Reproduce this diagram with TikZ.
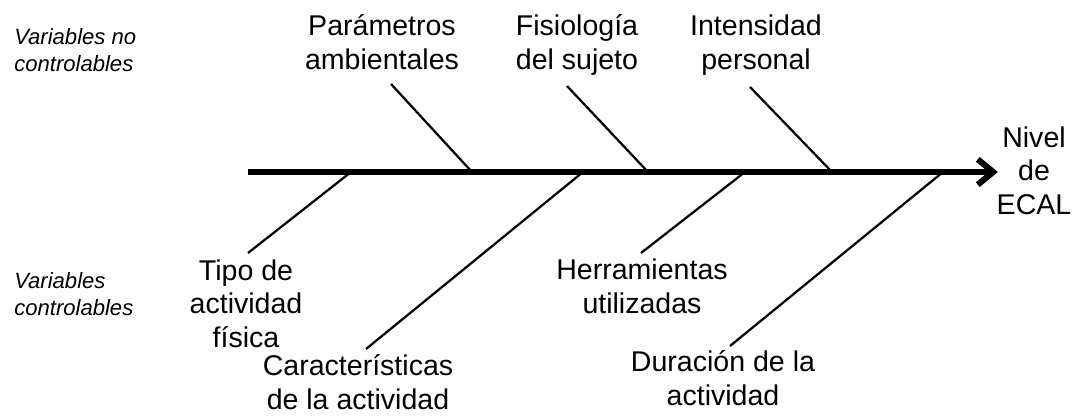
\documentclass[tikz,border=0pt]{standalone}
\usepackage{fontspec}
\setmainfont{Liberation Sans}
\usetikzlibrary{arrows.meta}

\begin{document}
\begin{tikzpicture}[x=0.025cm,y=-0.025cm,
		lbl/.style={align=center,font=\fontsize{20.3}{23.5}\selectfont,inner sep=0pt,anchor=base},
		var/.style={align=left,font=\fontsize{15.7}{18.5}\selectfont\itshape,inner sep=0pt,anchor=base west},
		spine/.style={line width=4.3pt,-{Straight Barb[length=11pt,width=18pt]}},
		bone/.style={line width=1.6pt}]
		\useasboundingbox (0,0) rectangle (1078,415);
		% texto (y = linea base de la ultima linea)
		\node[var] at (14,71) (vn) {Variables no\\controlables};
		\node[var] at (14,315) (vc) {Variables\\controlables};
		\node[lbl] at (382,69) (pa) {Parámetros\\ambientales};
		\node[lbl] at (577,69) (fs) {Fisiología\\del sujeto};
		\node[lbl] at (756,69) (ip) {Intensidad\\personal};
		\node[lbl] at (1034,214) (ne) {Nivel\\de\\ECAL};
		\node[lbl] at (246,347) (ta) {Tipo de\\actividad\\física};
		\node[lbl] at (358,409) (ca) {Características\\de la actividad};
		\node[lbl] at (642,313) (hu) {Herramientas\\utilizadas};
		\node[lbl] at (723,405) (da) {Duración de la\\actividad};
		% espina
		\coordinate (s0) at (248,172);
		\coordinate (s1) at (998,172);
		\draw[spine] (s0) -- (s1);
		% ramas de arriba
		\coordinate (a1) at (391,84);
		\coordinate (b1) at (472,172);
		\coordinate (a2) at (567,86);
		\coordinate (b2) at (648,172);
		\coordinate (a3) at (750,87);
		\coordinate (b3) at (832,172);
		\draw[bone] (a1) -- (b1);
		\draw[bone] (a2) -- (b2);
		\draw[bone] (a3) -- (b3);
		% ramas de abajo
		\coordinate (c1) at (351,172);
		\coordinate (d1) at (248,253);
		\coordinate (c2) at (583,172);
		\coordinate (d2) at (366,349);
		\coordinate (c3) at (745,172);
		\coordinate (d3) at (641,253);
		\coordinate (c4) at (943,172);
		\coordinate (d4) at (730,346);
		\draw[bone] (c1) -- (d1);
		\draw[bone] (c2) -- (d2);
		\draw[bone] (c3) -- (d3);
		\draw[bone] (c4) -- (d4);
	\end{tikzpicture}
\end{document}
